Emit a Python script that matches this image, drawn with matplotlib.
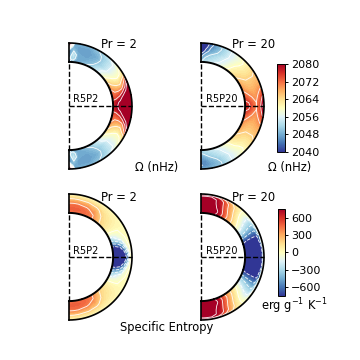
import numpy as np
import matplotlib
matplotlib.use("Agg")
import matplotlib.pyplot as plt

# colatitude (deg, pole to equator) and radius (outer = 1) of the table rows/columns
colat = [0, 2, 5, 10, 20, 30, 40, 50, 60, 70, 80, 86, 90]
radius = [0.70, 0.76, 0.82, 0.88, 0.94, 0.98, 1.00]

omega_pr2 = [
    [2044, 2042, 2050, 2046, 2070, 2080, 2080],
    [2042, 2052, 2048, 2046, 2052, 2076, 2076],
    [2048, 2052, 2054, 2050, 2048, 2048, 2048],
    [2048, 2048, 2048, 2047, 2047, 2048, 2048],
    [2050, 2048, 2047, 2047, 2047, 2048, 2048],
    [2052, 2050, 2049, 2048, 2049, 2050, 2050],
    [2055, 2054, 2052, 2052, 2052, 2053, 2054],
    [2060, 2058, 2056, 2056, 2056, 2058, 2058],
    [2066, 2063, 2061, 2060, 2061, 2063, 2064],
    [2071, 2068, 2067, 2067, 2074, 2082, 2084],
    [2074, 2074, 2076, 2082, 2088, 2090, 2090],
    [2076, 2078, 2082, 2088, 2090, 2090, 2090],
    [2076, 2079, 2084, 2090, 2092, 2092, 2090],
]
omega_pr20 = [
    [2052, 2046, 2042, 2036, 2036, 2036, 2036],
    [2052, 2048, 2044, 2036, 2036, 2036, 2036],
    [2053, 2051, 2047, 2042, 2038, 2036, 2036],
    [2054, 2052, 2050, 2047, 2045, 2044, 2044],
    [2056, 2054, 2053, 2051, 2050, 2050, 2050],
    [2059, 2057, 2056, 2055, 2055, 2055, 2055],
    [2062, 2061, 2060, 2059, 2058, 2059, 2059],
    [2065, 2064, 2063, 2062, 2062, 2062, 2062],
    [2068, 2066, 2065, 2065, 2065, 2066, 2066],
    [2070, 2068, 2067, 2067, 2068, 2068, 2068],
    [2074, 2072, 2070, 2069, 2071, 2074, 2075],
    [2076, 2075, 2072, 2070, 2073, 2078, 2080],
    [2077, 2076, 2073, 2070, 2074, 2080, 2084],
]
# the south pole of the Pr = 20 case has no dark cap
omega_pr20_south = [
    [2052, 2050, 2047, 2046, 2045, 2047, 2048],
    [2052, 2050, 2047, 2046, 2045, 2047, 2048],
    [2053, 2051, 2048, 2046, 2046, 2047, 2048],
    [2054, 2052, 2050, 2048, 2047, 2048, 2048],
] + omega_pr20[4:]
entropy_pr2 = [
    [420, 480, 450, 320, 150, 60, 30],
    [420, 480, 450, 320, 150, 60, 30],
    [420, 480, 450, 320, 150, 60, 30],
    [430, 480, 450, 310, 140, 50, 30],
    [440, 450, 400, 280, 130, 50, 30],
    [400, 380, 320, 220, 110, 40, 20],
    [210, 190, 160, 120, 70, 30, 20],
    [100, 100, 90, 70, 50, 20, 10],
    [-20, -10, 0, 10, 20, 20, 10],
    [-420, -320, -200, -90, 0, 20, 20],
    [-900, -900, -800, -550, -120, 10, 20],
    [-900, -900, -900, -850, -420, 0, 10],
    [-900, -900, -900, -900, -600, -20, 0],
]
entropy_pr20 = [
    [850, 850, 850, 850, 850, 700, 150],
    [850, 850, 850, 850, 850, 700, 150],
    [850, 850, 850, 850, 850, 700, 150],
    [850, 850, 850, 850, 850, 700, 150],
    [720, 760, 720, 680, 650, 500, 120],
    [420, 450, 400, 340, 300, 220, 60],
    [200, 180, 120, 70, 40, 30, 10],
    [0, -40, -100, -160, -180, -120, -30],
    [-280, -320, -380, -420, -440, -300, -60],
    [-700, -740, -760, -780, -780, -560, -120],
    [-900, -900, -900, -900, -900, -700, -150],
    [-900, -900, -900, -900, -900, -720, -160],
    [-900, -900, -900, -900, -900, -720, -160],
]

panel_titles = ["Pr = 2", "Pr = 20", "Pr = 2", "Pr = 20"]
panel_names = ["R5P2", "R5P20", "R5P2", "R5P20"]
omega_ticks = [2040, 2048, 2056, 2064, 2072, 2080]
entropy_ticks = [-600, -300, 0, 300, 600]

W, H = 360, 360
INNER = radius[0]
PX_R = 63.0


def px_axes(fig, x0, y0, x1, y1):
    # pixel box measured from the top left of the picture
    return fig.add_axes([x0 / W, 1 - y1 / H, (x1 - x0) / W, (y1 - y0) / H])


def px_text(fig, x, y, s, size=8.3):
    fig.text(x / W, 1 - y / H, s, ha="center", va="center", fontsize=size)


def draw_shell(fig, cx, cy, table, vmin, vmax, dashed_neg=False, south=None):
    ax = px_axes(fig, cx - 3, cy - PX_R - 3, cx + PX_R + 3, cy + PX_R + 3)
    north = np.array(table, dtype=float)
    other = north if south is None else np.array(south, dtype=float)
    values = np.vstack([north, other[-2::-1]])
    t = np.radians(colat + [180 - c for c in colat[-2::-1]])
    r = np.array(radius)
    x = np.outer(np.sin(t), r)
    y = np.outer(np.cos(t), r)
    ax.contourf(x, y, values, levels=np.linspace(vmin, vmax, 65), cmap="RdYlBu_r", extend="both")
    lines = np.linspace(vmin, vmax, 9)
    cs = ax.contour(x, y, values, levels=lines, colors="white", linewidths=0.65, alpha=0.9)
    if not dashed_neg:
        cs.set_linestyle("solid")

    arc = np.radians(np.linspace(0, 180, 181))
    ax.plot(np.sin(arc), np.cos(arc), color="k", lw=1.2)
    ax.plot(INNER * np.sin(arc), INNER * np.cos(arc), color="k", lw=1.4)
    ax.plot([0, 0], [INNER, 1], color="k", lw=1.2)
    ax.plot([0, 0], [-1, -INNER], color="k", lw=1.2)
    ax.plot([0, 0], [-INNER, INNER], color="k", lw=1.0, ls="--")
    ax.plot([0, 1], [0, 0], color="k", lw=1.0, ls="--")

    pad = 3 / PX_R
    ax.set_xlim(-pad, 1 + pad)
    ax.set_ylim(-1 - pad, 1 + pad)
    ax.axis("off")


def draw_colorbar(fig, box, vmin, vmax, ticks):
    cax = px_axes(fig, *box)
    sm = plt.cm.ScalarMappable(norm=plt.Normalize(vmin, vmax), cmap="RdYlBu_r")
    cb = fig.colorbar(sm, cax=cax, ticks=ticks)
    cb.ax.tick_params(labelsize=8, length=2.5, width=0.7, pad=2)
    cb.outline.set_linewidth(0.7)


def main():
    fig = plt.figure(figsize=(3.6, 3.6), dpi=100)

    draw_shell(fig, 69, 106, omega_pr2, 2040, 2080)
    draw_shell(fig, 201, 106, omega_pr20, 2040, 2080, south=omega_pr20_south)
    draw_shell(fig, 69, 257, entropy_pr2, -750, 750, dashed_neg=True)
    draw_shell(fig, 201, 257, entropy_pr20, -750, 750, dashed_neg=True)

    draw_colorbar(fig, (277, 64, 285, 152), 2040, 2080, omega_ticks)
    draw_colorbar(fig, (278, 209, 285, 296), -750, 750, entropy_ticks)

    title_pos = [(119, 45), (254, 45), (119, 197), (254, 197)]
    name_pos = [(86, 99), (222, 99), (86, 251), (222, 251)]
    for s, (x, y) in zip(panel_titles, title_pos):
        px_text(fig, x, y, s)
    for s, (x, y) in zip(panel_names, name_pos):
        px_text(fig, x, y, s, size=7)

    px_text(fig, 157, 168, "Ω (nHz)")
    px_text(fig, 290, 168, "Ω (nHz)")
    px_text(fig, 167, 328, "Specific Entropy")
    px_text(fig, 294, 306, r"erg g$^{-1}$ K$^{-1}$")

    fig.savefig("out.png", dpi=100)


if __name__ == "__main__":
    main()
